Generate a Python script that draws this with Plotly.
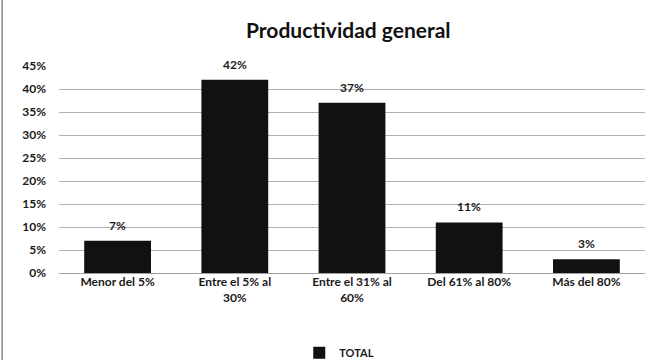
import plotly.graph_objects as go

categories = ["Menor del 5%", "Entre el 5% al<br>30%", "Entre el 31% al<br>60%", "Del 61% al 80%", "Más del 80%"]
values = [7, 42, 37, 11, 3]
tick_vals = [0, 5, 10, 15, 20, 25, 30, 35, 40, 45]
tick_text = [f"{v}%" for v in tick_vals]

font_family = "Lato, 'Open Sans', sans-serif"
ink = "#1a1a1a"

fig = go.Figure(
    go.Bar(
        x=categories,
        y=values,
        name="TOTAL",
        marker=dict(color="#111111", line=dict(width=0)),
        showlegend=True,
    )
)

# value labels above each bar
for cat, v in zip(categories, values):
    fig.add_annotation(
        x=cat, y=v, text=f"{v}%", showarrow=False,
        yanchor="bottom", yshift=6,
        font=dict(size=12, color=ink, family=font_family, weight="bold"),
    )

fig.update_layout(
    width=645,
    height=360,
    margin=dict(l=59, r=0, t=66, b=87, autoexpand=False),
    paper_bgcolor="white",
    plot_bgcolor="white",
    title=dict(
        text="<b>Productividad general</b>",
        x=0.54,
        xanchor="center",
        y=0.915,
        yanchor="middle",
        font=dict(size=21, color="#111111", family=font_family),
    ),
    font=dict(family=font_family, color=ink),
    bargap=0.43,
    legend=dict(
        orientation="h",
        x=0.41,
        xanchor="left",
        y=-0.385,
        yanchor="middle",
        font=dict(size=11, color=ink, family=font_family, weight="bold"),
        itemwidth=30,
    ),
    showlegend=True,
)

fig.update_xaxes(
    showline=False,
    ticks="",
    tickfont=dict(size=12, color=ink, family=font_family, weight="bold"),
)
fig.update_yaxes(
    range=[0, 45],
    tickvals=tick_vals,
    ticktext=tick_text,
    showgrid=True,
    gridcolor="#b0b0b0",
    gridwidth=1,
    zeroline=True,
    zerolinecolor="#a0a0a0",
    zerolinewidth=1,
    ticks="",
    ticklabelstandoff=12,
    tickfont=dict(size=12, color=ink, family=font_family, weight="bold"),
)

# thin frame line at the left edge of the chart area
fig.add_shape(
    type="line", xref="paper", yref="paper",
    x0=-0.097, x1=-0.097, y0=-0.45, y1=1.32,
    line=dict(color="#8a8a8a", width=1.5),
)

fig.write_html("out.html")
